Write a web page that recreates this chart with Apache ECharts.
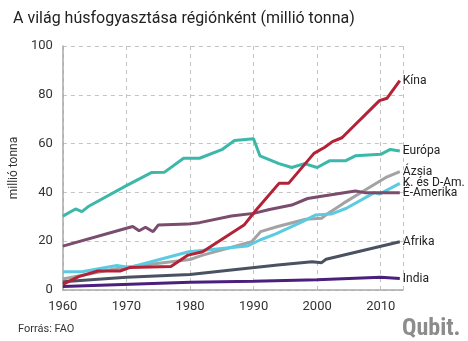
<!DOCTYPE html>
<html>
<head>
<meta charset="utf-8">
<script src="https://cdn.jsdelivr.net/npm/echarts@6/dist/echarts.min.js"></script>
<style>
html,body{margin:0;padding:0;background:#fff;}
#c{width:468px;height:341px;}
</style>
</head>
<body>
<div id="c"></div>
<script>
var seriesNames = ['Kína','Európa','Ázsia','K. és D-Am.','É-Amerika','Afrika','India'];
var china = [[1960,2.3],[1962.5,5.5],[1965.5,7.8],[1969,7.8],[1970.5,9.2],[1977,9.6],[1979.7,14.3],[1982,15.7],[1988.5,26.6],[1990.4,32.8],[1994,43.7],[1995.5,43.7],[1999.5,56],[2001.2,58.5],[2002.4,60.8],[2003.9,62.4],[2009.8,77.6],[2011,78.6],[2013,85.8]];
var europe = [[1960,30.3],[1962,33.2],[1963,32.1],[1964,34.2],[1970,42.8],[1974,48.2],[1976,48.3],[1979,54],[1981.5,54],[1985,57.5],[1987,61.3],[1990,62],[1991,55],[1994,51.8],[1996,50.2],[1998,51.8],[2000,50.2],[2002,53],[2004.5,53],[2006,55],[2010,55.6],[2011.5,57.6],[2013,57]];
var asia = [[1960,4.5],[1969,9],[1980,12.5],[1982,14.3],[1989.7,19.8],[1991.1,23.9],[1993.8,26],[1998.2,29],[2000.7,29.4],[2001.7,31.4],[2004.1,35.5],[2008,41.7],[2011,46.4],[2013,48.5]];
var latam = [[1960,7.5],[1963,7.5],[1968.5,10],[1970.5,9.2],[1979.8,15.7],[1989,18],[1991,20.5],[1993.5,23],[1997.7,28],[1999.7,30.7],[2002.2,31.1],[2004.6,33.5],[2009,39.9],[2009.8,39.3],[2013,43.7]];
var northAm = [[1960,18],[1970,25.3],[1971,26],[1972,24.3],[1973,25.7],[1974.2,23.9],[1975,26.6],[1979.6,27],[1981.5,27.6],[1986.5,30.3],[1990,31.4],[1992.5,33],[1996,34.8],[1998.5,37.5],[2000.2,38.2],[2006,40.6],[2007.5,39.9],[2013,39.9]];
var africa = [[1960,3.4],[1970,5.2],[1980,6.4],[1986.5,8.2],[1993.8,10.2],[1999.2,11.6],[2000.7,11.2],[2001.4,12.6],[2013,19.8]];
var india = [[1960,1.4],[1980,3.2],[1990,3.6],[2000,4.2],[2010,5.2],[2013,4.7]];
var yTicks = [0,20,40,60,80,100];
var xTicks = [1960,1970,1980,1990,2000,2010];

var colors = {
  'Kína':'#b32237',
  'Európa':'#3cb8aa',
  'Ázsia':'#a3a3a3',
  'K. és D-Am.':'#5ccbe2',
  'É-Amerika':'#7a4d6c',
  'Afrika':'#4a5262',
  'India':'#4b1f7c'
};
var dataMap = {
  'Kína':china,'Európa':europe,'Ázsia':asia,'K. és D-Am.':latam,
  'É-Amerika':northAm,'Afrika':africa,'India':india
};
var drawOrder = ['India','Afrika','Ázsia','K. és D-Am.','É-Amerika','Európa','Kína'];

var chart = echarts.init(document.getElementById('c'));
var font = 'Roboto, "Noto Sans", sans-serif';
chart.setOption({
  animation:false,
  textStyle:{fontFamily:font},
  title:[
    {text:'A világ húsfogyasztása régiónként (millió tonna)',left:8,top:6,
     textStyle:{fontSize:16,fontWeight:'normal',color:'#222',fontFamily:font}},
    {text:'Forrás: FAO',left:13,top:319,
     textStyle:{fontSize:11,fontWeight:'normal',color:'#333',fontFamily:font}},
    {text:'Qubit.',left:397,top:312,
     textStyle:{fontSize:24,fontWeight:'bold',color:'#8c8c8c',fontFamily:'"Roboto Condensed", Roboto, sans-serif'}}
  ],
  grid:{left:40,right:65,top:46,bottom:51},
  xAxis:{
    type:'value',min:1960,max:2013.5,interval:10,
    axisLine:{show:true,lineStyle:{color:'#aaa',width:1.5}},
    axisTick:{show:false},
    axisLabel:{fontSize:13,color:'#333',margin:10,showMaxLabel:false,
      formatter:function(v){return xTicks.indexOf(v)>=0?String(v):'';}},
    splitLine:{show:true,lineStyle:{color:'#c4c4c4',type:[4,4]}}
  },
  yAxis:{
    type:'value',min:0,max:100,interval:20,
    name:'millió tonna',nameLocation:'middle',nameGap:26,nameRotate:90,
    nameTextStyle:{fontSize:12,color:'#333'},
    axisLine:{show:true,lineStyle:{color:'#aaa',width:1.5}},
    axisTick:{show:false},
    axisLabel:{fontSize:13,color:'#333',margin:10,
      formatter:function(v){return yTicks.indexOf(v)>=0?String(v):'';}},
    splitLine:{show:true,lineStyle:{color:'#c4c4c4',type:[4,4]}}
  },
  series:drawOrder.map(function(n){
    return {
      name:n,type:'line',data:dataMap[n],showSymbol:false,symbol:'none',
      lineStyle:{color:colors[n],width:3},
      itemStyle:{color:colors[n]},
      endLabel:{show:true,formatter:n,fontSize:12,color:'#222',distance:3,fontFamily:font}
    };
  })
});
</script>
</body>
</html>
